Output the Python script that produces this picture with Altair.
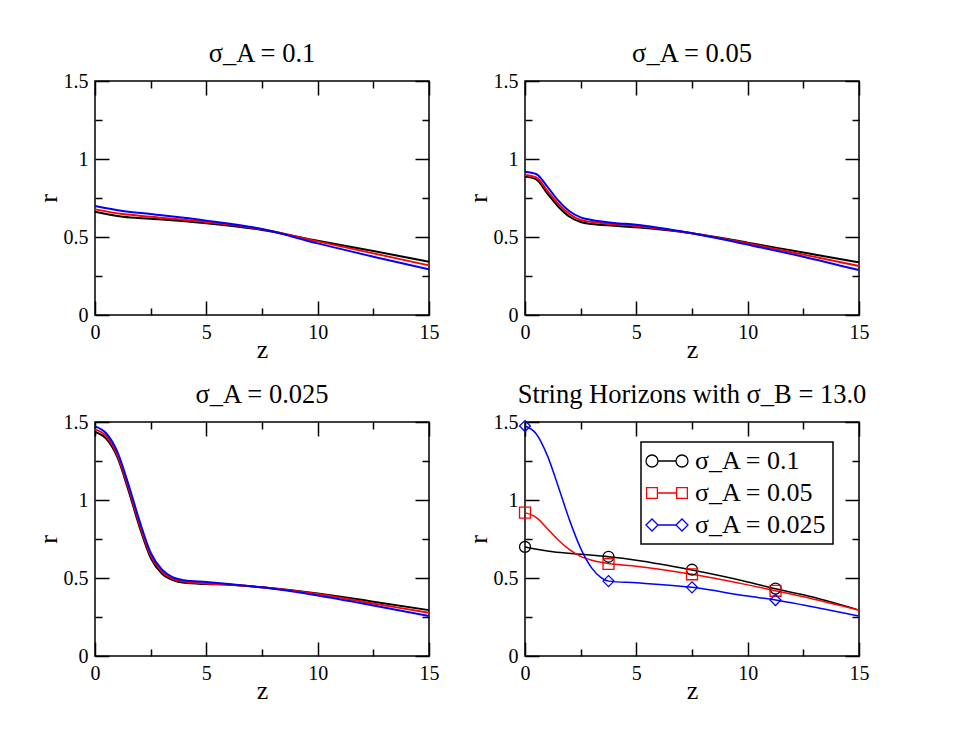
import altair as alt
import pandas as pd

FONT = "Liberation Serif"
W, H = 334, 234

series_colors = ["#000000", "#ff0000", "#0000ff"]

x_major = [0, 5, 10, 15]
x_minor = [2.5, 7.5, 12.5]
y_major = [0, 0.5, 1, 1.5]
y_minor = [0.25, 0.75, 1.25]

# ---- panel 1 : sigma_A = 0.1 ----
p1_title = "σ_A = 0.1"
p1_z = [0, 1.25, 2.5, 5, 7.5, 10, 12.5, 15]
p1_black = [0.662, 0.630, 0.617, 0.588, 0.545, 0.476, 0.410, 0.342]
p1_red = [0.677, 0.647, 0.630, 0.596, 0.549, 0.472, 0.395, 0.318]
p1_blue = [0.699, 0.667, 0.647, 0.605, 0.551, 0.459, 0.374, 0.293]

# ---- panel 2 : sigma_A = 0.05 ----
p2_title = "σ_A = 0.05"
p2_z = [0, 0.5, 1, 1.5, 2, 2.5, 3, 4, 5, 7.5, 10, 12.5, 15]
p2_black = [0.887, 0.870, 0.780, 0.694, 0.630, 0.596, 0.583, 0.572, 0.562, 0.524, 0.464, 0.400, 0.338]
p2_red = [0.897, 0.882, 0.797, 0.712, 0.647, 0.609, 0.596, 0.582, 0.571, 0.524, 0.459, 0.387, 0.314]
p2_blue = [0.919, 0.904, 0.823, 0.733, 0.665, 0.626, 0.609, 0.590, 0.579, 0.524, 0.451, 0.374, 0.288]

# ---- panel 3 : sigma_A = 0.025 ----
p3_title = "σ_A = 0.025"
p3_z = [0, 0.5, 1, 1.5, 2, 2.5, 3, 3.5, 4, 5, 6, 7.5, 10, 12.5, 15]
p3_black = [1.436, 1.393, 1.276, 1.063, 0.828, 0.630, 0.529, 0.486, 0.469, 0.461, 0.457, 0.440, 0.401, 0.348, 0.294]
p3_red = [1.453, 1.410, 1.289, 1.080, 0.845, 0.645, 0.542, 0.495, 0.478, 0.465, 0.458, 0.440, 0.397, 0.337, 0.277]
p3_blue = [1.472, 1.428, 1.310, 1.101, 0.866, 0.662, 0.555, 0.504, 0.486, 0.474, 0.462, 0.440, 0.388, 0.324, 0.256]

# ---- panel 4 : String Horizons with sigma_B = 13.0 ----
p4_title = "String Horizons with σ_B = 13.0"
p4_labels = ["σ_A = 0.1", "σ_A = 0.05", "σ_A = 0.025"]
p4_black_z = [0, 1.25, 2.5, 3.75, 5, 7.5, 10, 11.25, 12.5, 15]
p4_black = [0.699, 0.668, 0.652, 0.636, 0.614, 0.551, 0.475, 0.431, 0.392, 0.294]
p4_red_z = [0, 0.5, 1, 1.5, 2, 2.5, 3, 3.75, 5, 7.5, 10, 11.25, 12.5, 15]
p4_red = [0.919, 0.888, 0.817, 0.742, 0.682, 0.639, 0.614, 0.593, 0.576, 0.524, 0.456, 0.418, 0.380, 0.294]
p4_blue_z = [0, 0.5, 1, 1.5, 2, 2.5, 3, 3.4, 3.75, 5, 7.5, 10, 11.25, 12.5, 15]
p4_blue = [1.474, 1.425, 1.286, 1.084, 0.871, 0.690, 0.563, 0.504, 0.480, 0.469, 0.440, 0.384, 0.359, 0.327, 0.256]
p4_marker_z = [0, 3.75, 7.5, 11.25]
p4_marker_black = [0.699, 0.636, 0.553, 0.432]
p4_marker_red = [0.919, 0.590, 0.524, 0.418]
p4_marker_blue = [1.474, 0.480, 0.440, 0.359]
p4_marker_shapes = ["circle", "square", "diamond"]


def lines_frame(curves):
    rows = []
    for color, (zs, vals) in zip(series_colors, curves):
        for zi, ri in zip(zs, vals):
            rows.append({"z": zi, "r": ri, "col": color})
    return pd.DataFrame(rows)


xs = alt.Scale(domain=[0, 15], nice=False, zero=False)
ys = alt.Scale(domain=[0, 1.5], nice=False, zero=False)


def label_axis_x():
    return alt.Axis(orient="bottom", values=x_major, format="~g", ticks=False, tickSize=0,
                    domain=False, grid=False, labelFont=FONT, labelFontSize=20,
                    labelColor="black", labelPadding=7, labelFlush=False, labelOverlap=False,
                    title="z", titleFont=FONT, titleFontSize=26, titleFontWeight="normal",
                    titleColor="black", titleBaseline="alphabetic", titleY=42)


def label_axis_y():
    return alt.Axis(orient="left", values=y_major, format="~g", ticks=False, tickSize=0,
                    domain=False, grid=False, labelFont=FONT, labelFontSize=20,
                    labelColor="black", labelPadding=7, labelFlush=False, labelOverlap=False,
                    title="r", titleFont=FONT, titleFontSize=26, titleFontWeight="normal",
                    titleColor="black", titleBaseline="alphabetic", titleX=-39, titleY=H / 2)


def tick_axis(orient, offset, values, size):
    return alt.Axis(orient=orient, offset=offset, values=values, labels=False, domain=False,
                    grid=False, ticks=True, tickSize=size, tickColor="black", tickWidth=1.5,
                    title=None)


def tick_layers(df):
    layers = []
    for xo, yo, xv, yv, sz in [
        ("top", "right", x_major, y_major, 14),
        ("bottom", "left", x_major, y_major, 14),
        ("top", "right", x_minor, y_minor, 7),
        ("bottom", "left", x_minor, y_minor, 7),
    ]:
        layers.append(
            alt.Chart(df).mark_point(opacity=0).encode(
                x=alt.X("z:Q", scale=xs, axis=tick_axis(xo, -H, xv, sz)),
                y=alt.Y("r:Q", scale=ys, axis=tick_axis(yo, -W, yv, sz)),
            )
        )
    return layers


def panel(df, title, extra=None, lw=2.0):
    lines = alt.Chart(df).mark_line(interpolate="monotone", strokeWidth=lw).encode(
        x=alt.X("z:Q", scale=xs, axis=label_axis_x()),
        y=alt.Y("r:Q", scale=ys, axis=label_axis_y()),
        color=alt.Color("col:N", scale=None),
    )
    layers = [lines] + tick_layers(df) + (extra or [])
    return alt.layer(*layers).resolve_axis(x="independent", y="independent").properties(
        width=W, height=H,
        title=alt.TitleParams(text=title, font=FONT, fontSize=26.5, fontWeight="normal",
                              color="black", offset=-17.7, baseline="alphabetic"),
    )


df1 = lines_frame([(p1_z, p1_black), (p1_z, p1_red), (p1_z, p1_blue)])
df2 = lines_frame([(p2_z, p2_black), (p2_z, p2_red), (p2_z, p2_blue)])
df3 = lines_frame([(p3_z, p3_black), (p3_z, p3_red), (p3_z, p3_blue)])
df4 = lines_frame([(p4_black_z, p4_black), (p4_red_z, p4_red), (p4_blue_z, p4_blue)])

mrows = []
for lab, color, shp, vals in zip(p4_labels, series_colors, p4_marker_shapes,
                                 [p4_marker_black, p4_marker_red, p4_marker_blue]):
    for zi, ri in zip(p4_marker_z, vals):
        mrows.append({"z": zi, "r": ri, "col": color, "shp": shp, "label": lab})
mdf = pd.DataFrame(mrows)


def circ(cx, r=2.0):
    k = 0.5523 * r
    return (f"M{cx + r},0 C{cx + r},{k} {cx + k},{r} {cx},{r} "
            f"C{cx - k},{r} {cx - r},{k} {cx - r},0 "
            f"C{cx - r},{-k} {cx - k},{-r} {cx},{-r} "
            f"C{cx + k},{-r} {cx + r},{-k} {cx + r},0 Z")


def sq(cx, h=1.8):
    return f"M{cx - h},{-h} L{cx + h},{-h} L{cx + h},{h} L{cx - h},{h} Z"


def dia(cx, h=2.0):
    return f"M{cx - h},0 L{cx},{-h} L{cx + h},0 L{cx},{h} Z"


seg = " M-3,0 L3,0 "
legend_paths = [
    circ(-5) + seg + circ(5),
    sq(-5) + seg + sq(5),
    dia(-5) + seg + dia(5),
]

leg = alt.Legend(orient="none", legendX=116, legendY=20, title=None, padding=6,
                 strokeColor="black", fillColor="white", labelFont=FONT, labelFontSize=26,
                 labelColor="black", labelOffset=15, symbolOffset=7, symbolSize=36,
                 symbolStrokeWidth=1.3, rowPadding=6, labelLimit=400)

markers = alt.Chart(mdf).mark_point(size=120, strokeWidth=1.3, filled=False, opacity=1).encode(
    x=alt.X("z:Q", scale=xs, axis=None),
    y=alt.Y("r:Q", scale=ys, axis=None),
    color=alt.Color("col:N", scale=None),
    shape=alt.Shape("shp:N", scale=None),
)

legend_layer = alt.Chart(mdf).transform_filter("datum.z < -1").mark_point(filled=False).encode(
    x=alt.X("z:Q", scale=xs, axis=None),
    y=alt.Y("r:Q", scale=ys, axis=None),
    color=alt.Color("label:N", scale=alt.Scale(domain=p4_labels, range=series_colors), legend=leg),
    shape=alt.Shape("label:N", scale=alt.Scale(domain=p4_labels, range=legend_paths), legend=leg),
)

c1 = panel(df1, p1_title)
c2 = panel(df2, p2_title)
c3 = panel(df3, p3_title)
c4 = panel(df4, p4_title, [markers, legend_layer], lw=1.5)

chart = alt.concat(
    c1, c2, c3, c4, columns=2, spacing={"row": 107, "column": 96}, bounds="flush"
).resolve_scale(
    color="independent", shape="independent"
).properties(
    padding={"left": 26, "top": 32, "right": 20, "bottom": 20},
    background="white",
).configure_view(stroke="black", strokeWidth=1.5).configure_legend(strokeWidth=1.5)

chart.save("out.html", embed_options={"renderer": "svg", "actions": False})
